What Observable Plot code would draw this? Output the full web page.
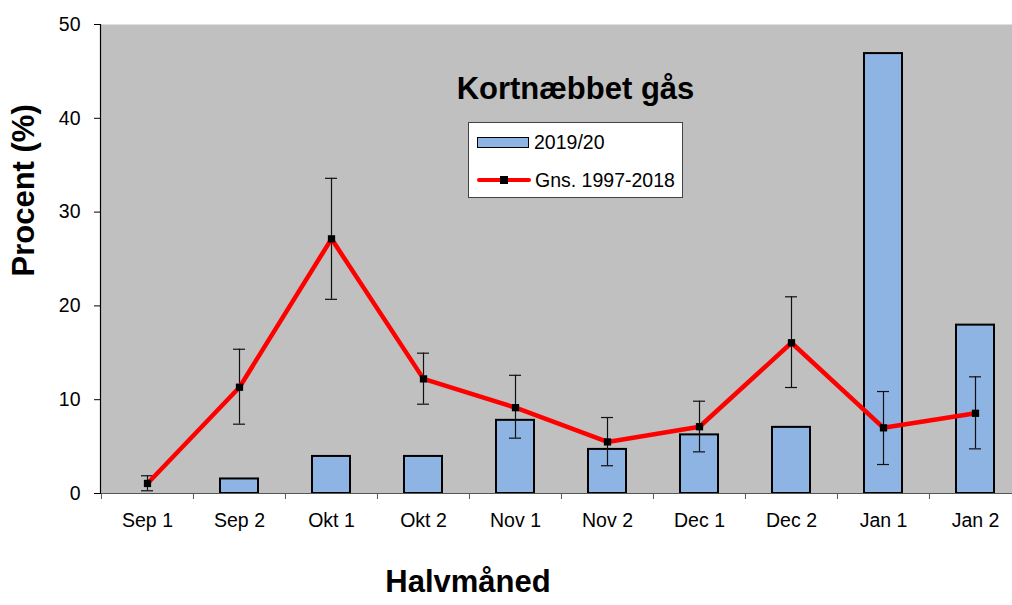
<!DOCTYPE html>
<html>
<head>
<meta charset="utf-8">
<script src="https://cdn.jsdelivr.net/npm/d3@7"></script>
<script src="https://cdn.jsdelivr.net/npm/@observablehq/plot@0.6"></script>
<style>
  html, body { margin: 0; padding: 0; background: #fff; overflow: hidden; }
  #wrap { position: relative; width: 1012px; height: 605px; overflow: hidden; font-family: "Liberation Sans", Arial, sans-serif; }
  #wrap svg { max-width: none !important; }
  #legend { position: absolute; left: 468px; top: 122px; width: 213px; height: 74px; background: #fff; border: 1px solid #444; }
  .row { position: absolute; left: 8px; height: 20px; display: flex; align-items: center; font-size: 19.5px; color: #000; }
  .sw { width: 50px; height: 9px; background: #8db4e2; border: 1.5px solid #000; margin-right: 5px; }
  .ln { position: relative; width: 54px; height: 4.5px; background: #ff0000; margin-right: 4px; border-radius: 2px; }
  .ln i { position: absolute; left: 23px; top: -1.5px; width: 7.5px; height: 7.5px; background: #000; }
</style>
</head>
<body>
<div id="wrap"></div>
<script>
const categories = ["Sep 1","Sep 2","Okt 1","Okt 2","Nov 1","Nov 2","Dec 1","Dec 2","Jan 1","Jan 2"];
const season2019 = [0, 1.55, 3.95, 3.95, 7.8, 4.7, 6.25, 7.05, 46.9, 17.95];
const mean19972018 = [1.07, 11.33, 27.15, 12.22, 9.15, 5.5, 7.12, 16.07, 7.0, 8.55];
const errLow = [0.29, 7.39, 20.7, 9.52, 5.9, 2.96, 4.44, 11.3, 3.09, 4.76];
const errHigh = [1.89, 15.38, 33.6, 14.96, 12.6, 8.1, 9.84, 20.97, 10.87, 12.44];
const yTicks = [0, 10, 20, 30, 40, 50];
const seriesNames = ["2019/20", "Gns. 1997-2018"];
const chartTitle = "Kortnæbbet gås";
const xTitle = "Halvmåned";
const yTitle = "Procent (%)";

const bars = categories.map((c, i) => ({cat: c, v: season2019[i]})).filter(d => d.v > 0);
const avg = categories.map((c, i) => ({cat: c, v: mean19972018[i], lo: errLow[i], hi: errHigh[i]}));

const W = 1021, H = 605, ML = 100, MR = 0, MT = 24, MB = 112;
const step = (W - ML - MR) / categories.length;
const font = "'Liberation Sans', Arial, sans-serif";

const chart = Plot.plot({
  width: W, height: H,
  marginLeft: ML, marginRight: MR, marginTop: MT, marginBottom: MB,
  style: {fontFamily: font, background: "#fff", color: "#000", maxWidth: "none"},
  x: {type: "band", domain: categories, paddingInner: 0.59, paddingOuter: 0.295},
  y: {domain: [0, 50]},
  marks: [
    Plot.frame({fill: "#c0c0c0", stroke: null}),
    Plot.barY(bars, {x: "cat", y: "v", fill: "#8db4e2", stroke: "#000", strokeWidth: 2}),
    Plot.frame({anchor: "bottom", stroke: "#555", strokeWidth: 1.2}),
    Plot.frame({anchor: "left", stroke: "#000", strokeWidth: 1.2}),
    Plot.axisY({ticks: yTicks, tickSize: 6, tickPadding: 14, fontSize: 19.5, label: null, fill: "#000"}),
    Plot.axisX({tickSize: 6, tickFormat: () => "", dx: -step / 2, label: null, stroke: "#555"}),
    Plot.axisX({tickSize: 0, tickPadding: 20, fontSize: 19.5, label: null, fill: "#000"}),
    Plot.ruleX(avg, {x: "cat", y1: "lo", y2: "hi", stroke: "#111", strokeWidth: 1.2}),
    Plot.tickY(avg, {x: "cat", y: "lo", stroke: "#111", strokeWidth: 1.2, insetLeft: 13, insetRight: 13}),
    Plot.tickY(avg, {x: "cat", y: "hi", stroke: "#111", strokeWidth: 1.2, insetLeft: 13, insetRight: 13}),
    Plot.line(avg, {x: "cat", y: "v", stroke: "#ff0000", strokeWidth: 4.5, strokeLinejoin: "round"}),
    Plot.dot(avg, {x: "cat", y: "v", symbol: "square", r: 4.1, fill: "#000", stroke: null}),
    Plot.text([chartTitle], {frameAnchor: "top", dx: 14.5, dy: 52, fontSize: 31, fontWeight: "bold", fill: "#000"}),
    Plot.text([xTitle], {frameAnchor: "bottom", dx: -93, dy: 98.5, fontSize: 31, fontWeight: "bold", fill: "#000"}),
    Plot.text([yTitle], {frameAnchor: "left", dx: -76.5, dy: 17.5, rotate: -90, fontSize: 31, fontWeight: "bold", fill: "#000"})
  ]
});

const wrap = document.getElementById("wrap");
wrap.appendChild(chart);

const legend = document.createElement("div");
legend.id = "legend";
legend.innerHTML =
  `<div class="row" style="top:9px"><span class="sw"></span><span>${seriesNames[0]}</span></div>` +
  `<div class="row" style="top:47px"><span class="ln"><i></i></span><span>${seriesNames[1]}</span></div>`;
wrap.appendChild(legend);
</script>
</body>
</html>
